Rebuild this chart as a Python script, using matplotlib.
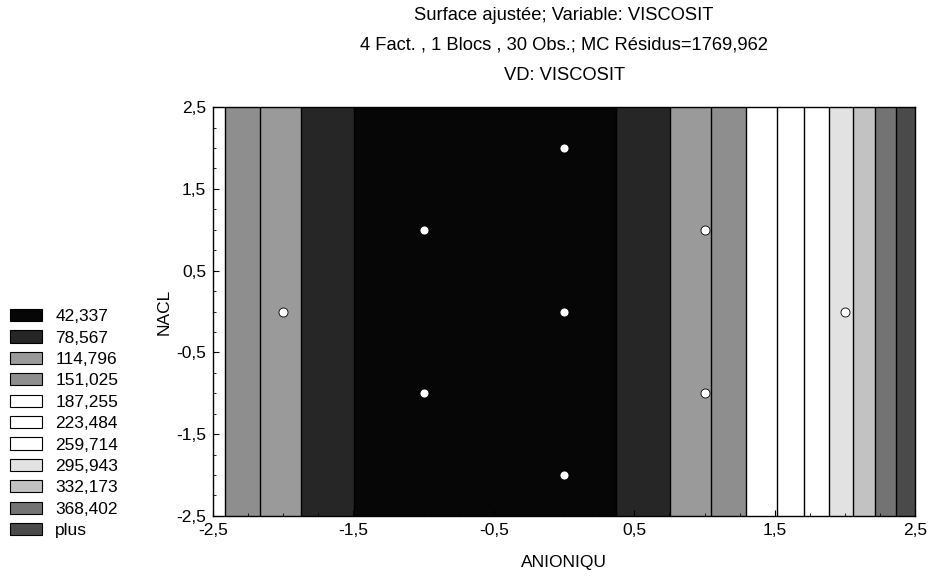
import numpy as np
import matplotlib
matplotlib.use("Agg")
import matplotlib.pyplot as plt
from matplotlib.patches import Patch

plt.rcParams['font.family'] = ['Liberation Sans', 'DejaVu Sans']

# fitted VISCOSIT read along ANIONIQU (surface does not vary with NACL)
anion_grid = [-2.5, -2.25, -2.0, -1.75, -1.5, -1.25, -1.0, -0.75, -0.5, -0.25, 0.0,
              0.25, 0.5, 0.75, 1.0, 1.25, 1.5, 1.75, 2.0, 2.25, 2.5]
visc_grid = [164.6, 126.1, 92.9, 65.0, 42.5, 25.2, 13.2, 6.5, 5.2, 9.1, 18.3,
             32.8, 52.6, 77.8, 108.2, 143.9, 184.9, 231.3, 282.9, 339.8, 402.0]
nacl_grid = [-2.5, 2.5]

levels = [42.337, 78.567, 114.796, 151.025, 187.255, 223.484,
          259.714, 295.943, 332.173, 368.402]
level_labels = ['42,337', '78,567', '114,796', '151,025', '187,255', '223,484',
                '259,714', '295,943', '332,173', '368,402', 'plus']
band_colors = ['#060606', '#262626', '#9a9a9a', '#8e8e8e', '#ffffff', '#ffffff',
               '#ffffff', '#e2e2e2', '#c2c2c2', '#737373', '#4a4a4a']

# observed design points
anion_pts = [-2, -1, -1, 0, 0, 0, 1, 1, 2]
nacl_pts = [0, 1, -1, 2, 0, -2, 1, -1, 0]

ticks = [-2.5, -1.5, -0.5, 0.5, 1.5, 2.5]
tick_labels = ['-2,5', '-1,5', '-0,5', '0,5', '1,5', '2,5']

fs = 12.5

fig = plt.figure(figsize=(9.34, 5.79), dpi=100)
ax = fig.add_axes([0.228, 0.109, 0.752, 0.706])

X, Y = np.meshgrid(anion_grid, nacl_grid)
Z = np.tile(visc_grid, (len(nacl_grid), 1))
bounds = [-1e6] + levels + [1e6]
ax.contourf(X, Y, Z, levels=bounds, colors=band_colors)
ax.contour(X, Y, Z, levels=levels, colors='black', linewidths=1.0)

ax.plot(anion_pts, nacl_pts, 'o', ms=6.5, mfc='white', mec='black', mew=0.6)

ax.set_xlim(-2.5, 2.5)
ax.set_ylim(-2.5, 2.5)
ax.set_xticks(ticks)
ax.set_xticklabels(tick_labels)
ax.set_yticks(ticks)
ax.set_yticklabels(tick_labels)
ax.set_xticks(np.arange(-2.5, 2.51, 0.25), minor=True)
ax.set_yticks(np.arange(-2.5, 2.51, 0.25), minor=True)
ax.tick_params(which='both', direction='in', labelsize=fs)
ax.tick_params(which='major', length=4, pad=5)
ax.tick_params(which='minor', length=2)
for s in ax.spines.values():
    s.set_linewidth(1.0)

ax.set_xlabel('ANIONIQU', fontsize=fs, labelpad=12)
ax.set_ylabel('NACL', fontsize=fs, labelpad=3)

tfs = 13.2
fig.text(0.604, 1 - 15 / 579, 'Surface ajustée; Variable: VISCOSIT', ha='center', va='center', fontsize=tfs)
fig.text(0.604, 1 - 45 / 579, '4 Fact. , 1 Blocs , 30 Obs.; MC Résidus=1769,962', ha='center', va='center', fontsize=tfs)
fig.text(0.604, 1 - 75 / 579, 'VD: VISCOSIT', ha='center', va='center', fontsize=tfs)

handles = [Patch(facecolor=c, edgecolor='black', linewidth=0.8) for c in band_colors]
fig.legend(handles, level_labels, loc='upper left', bbox_to_anchor=(10 / 934, 1 - 309 / 579),
           frameon=False, fontsize=fs, borderpad=0, borderaxespad=0,
           labelspacing=0.36, handlelength=1.85, handleheight=0.7, handletextpad=0.75)

fig.savefig('out.png', dpi=100)
